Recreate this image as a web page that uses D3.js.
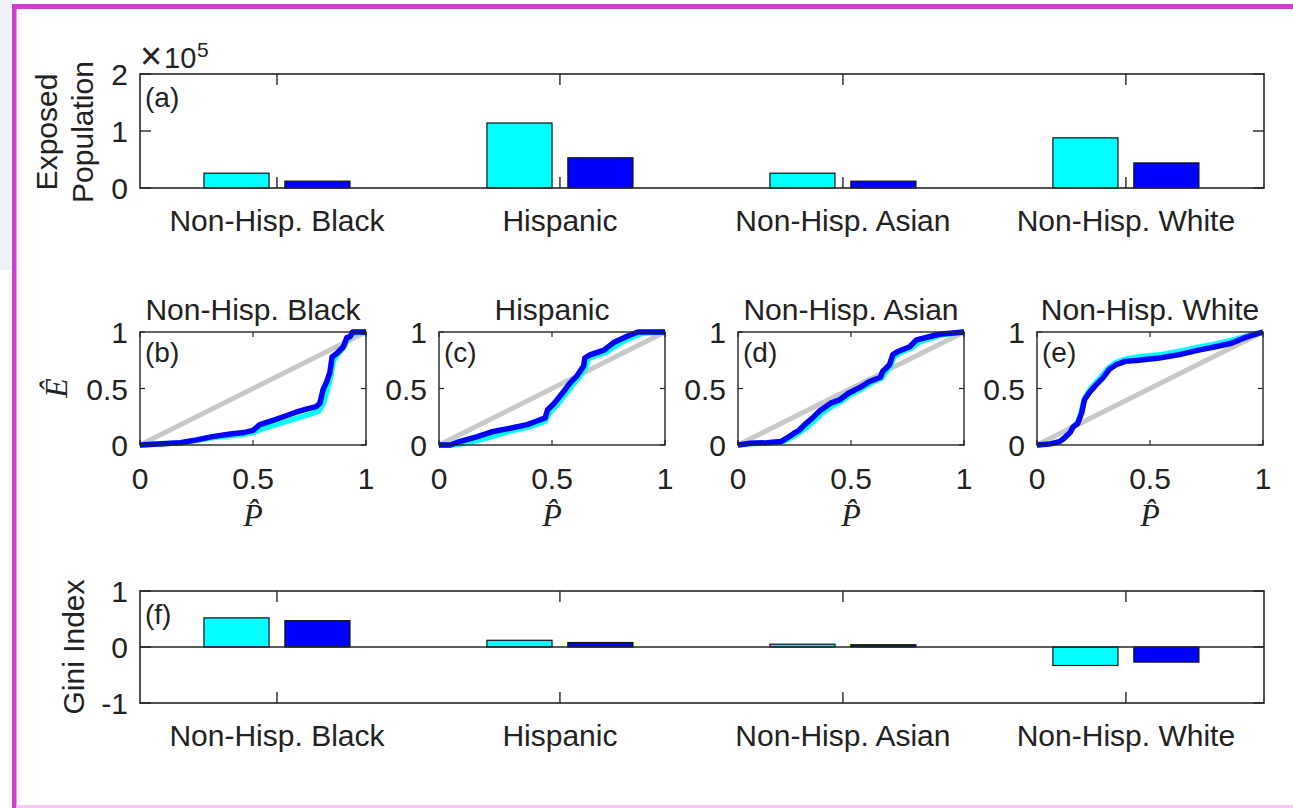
<!DOCTYPE html>
<html>
<head>
<meta charset="utf-8">
<script src="https://cdn.jsdelivr.net/npm/d3@7"></script>
<style>
  html, body { margin: 0; padding: 0; background: #fff; }
  svg { display: block; }
  text { font-family: "Liberation Sans", Arial, sans-serif; fill: #222; }
</style>
</head>
<body>
<svg id="chart" width="1293" height="808"></svg>
<script>
// ---------------- DATA ----------------
const categories = ["Non-Hisp. Black", "Hispanic", "Non-Hisp. Asian", "Non-Hisp. White"];
const panelLetters = ["(b)", "(c)", "(d)", "(e)"];
// Exposed population (x 10^5)
const exposedCyan = [0.26, 1.14, 0.26, 0.88];
const exposedBlue = [0.12, 0.53, 0.12, 0.44];
// Gini index
const giniCyan = [0.52, 0.12, 0.05, -0.33];
const giniBlue = [0.47, 0.08, 0.04, -0.27];
const exposedTicks = [0, 1, 2];
const giniTicks = [-1, 0, 1];
const lorenzTicks = [0, 0.5, 1];
const lorenzTickLabels = ["0", "0.5", "1"];
// Concentration curves (P-hat, E-hat)
const blackBlue = [[0,0],[0.10,0.01],[0.18,0.02],[0.25,0.045],[0.32,0.074],[0.40,0.098],[0.46,0.11],[0.50,0.13],[0.53,0.18],[0.575,0.21],[0.634,0.25],[0.69,0.29],[0.74,0.32],[0.78,0.34],[0.796,0.37],[0.81,0.49],[0.826,0.56],[0.84,0.64],[0.85,0.78],[0.87,0.81],[0.90,0.87],[0.915,0.95],[0.93,0.96],[0.94,1.0],[1,1]];
const blackCyan = [[0,0],[0.10,0.01],[0.18,0.02],[0.25,0.04],[0.32,0.065],[0.40,0.085],[0.46,0.095],[0.50,0.11],[0.55,0.15],[0.60,0.18],[0.65,0.21],[0.70,0.24],[0.75,0.27],[0.79,0.30],[0.81,0.36],[0.83,0.50],[0.845,0.62],[0.855,0.74],[0.87,0.79],[0.90,0.86],[0.92,0.94],[0.94,0.98],[0.96,1.0],[1,1]];
const hispBlue = [[0,0],[0.05,0],[0.09,0.03],[0.17,0.074],[0.24,0.12],[0.32,0.15],[0.39,0.18],[0.43,0.21],[0.47,0.24],[0.48,0.31],[0.51,0.37],[0.55,0.47],[0.58,0.55],[0.61,0.61],[0.64,0.70],[0.645,0.77],[0.67,0.80],[0.73,0.84],[0.775,0.91],[0.83,0.96],[0.88,1.0],[1,1]];
const hispCyan = [[0,0],[0.06,0],[0.10,0.01],[0.20,0.055],[0.30,0.115],[0.40,0.16],[0.47,0.21],[0.49,0.29],[0.52,0.35],[0.56,0.45],[0.59,0.53],[0.62,0.60],[0.65,0.69],[0.66,0.76],[0.69,0.79],[0.74,0.82],[0.79,0.89],[0.85,0.95],[0.90,0.99],[1,1]];
const asianBlue = [[0,0],[0.054,0.015],[0.13,0.02],[0.19,0.03],[0.215,0.06],[0.245,0.10],[0.27,0.13],[0.30,0.19],[0.33,0.24],[0.36,0.30],[0.41,0.37],[0.45,0.40],[0.49,0.46],[0.54,0.51],[0.58,0.56],[0.63,0.60],[0.64,0.65],[0.67,0.71],[0.685,0.80],[0.71,0.83],[0.76,0.87],[0.79,0.93],[0.85,0.96],[0.89,0.98],[1,1]];
const asianCyan = [[0,0],[0.06,0.012],[0.13,0.018],[0.20,0.03],[0.225,0.055],[0.255,0.09],[0.28,0.12],[0.31,0.17],[0.34,0.22],[0.37,0.28],[0.42,0.35],[0.46,0.39],[0.50,0.45],[0.55,0.50],[0.59,0.55],[0.635,0.59],[0.65,0.64],[0.675,0.70],[0.69,0.78],[0.72,0.82],[0.77,0.86],[0.80,0.91],[0.86,0.95],[0.90,0.975],[1,1]];
const whiteBlue = [[0,0],[0.06,0.01],[0.10,0.03],[0.12,0.06],[0.146,0.11],[0.16,0.16],[0.18,0.19],[0.197,0.28],[0.21,0.40],[0.234,0.47],[0.26,0.53],[0.29,0.59],[0.32,0.67],[0.35,0.71],[0.39,0.74],[0.45,0.75],[0.54,0.77],[0.63,0.80],[0.715,0.84],[0.79,0.87],[0.86,0.90],[0.92,0.95],[1,1]];
const whiteCyan = [[0,0],[0.06,0.01],[0.10,0.03],[0.12,0.06],[0.146,0.11],[0.16,0.16],[0.18,0.20],[0.195,0.29],[0.21,0.41],[0.234,0.49],[0.26,0.55],[0.29,0.62],[0.32,0.69],[0.35,0.73],[0.39,0.76],[0.45,0.78],[0.55,0.80],[0.63,0.83],[0.70,0.86],[0.78,0.89],[0.85,0.92],[0.92,0.96],[1,1]];
const lorenzSets = [[blackCyan, blackBlue], [hispCyan, hispBlue], [asianCyan, asianBlue], [whiteCyan, whiteBlue]];

// ---------------- STYLE ----------------
const CYAN = "#00ffff", BLUE = "#0000ff", AX = "#262626", GRAY = "#c8c8c8";
const FS = 30;
const svg = d3.select("#chart");

// screenshot frame fragments
svg.append("rect").attr("x", 0).attr("y", 0).attr("width", 12).attr("height", 270).attr("fill", "#eef2f6");
svg.append("rect").attr("x", 12).attr("y", 4).attr("width", 1281).attr("height", 5).attr("fill", "#d03ccf");
svg.append("rect").attr("x", 12).attr("y", 4).attr("width", 4.5).attr("height", 804).attr("fill", "#d03ccf");
svg.append("rect").attr("x", 16).attr("y", 805).attr("width", 1277).attr("height", 3).attr("fill", "#f3c9f2");

// ---------------- BAR PANELS ----------------
const xCat = d3.scaleLinear().domain([0.516, 4.488]).range([140, 1264]);
const off = 0.143, bw = 0.23;

function barPanel(y0, y1, domain, ticks, cyanVals, blueVals, letter, showZero) {
  const y = d3.scaleLinear().domain(domain).range([y1, y0]);
  const g = svg.append("g");
  const x0 = xCat.range()[0], x1 = xCat.range()[1];
  const base = y(Math.max(domain[0], 0));
  const bars = [];
  cyanVals.forEach((v, i) => bars.push({c: i + 1 - off, v, col: CYAN}));
  blueVals.forEach((v, i) => bars.push({c: i + 1 + off, v, col: BLUE}));
  g.selectAll("rect.bar").data(bars).join("rect")
    .attr("x", d => xCat(d.c - bw / 2))
    .attr("width", d => xCat(d.c + bw / 2) - xCat(d.c - bw / 2))
    .attr("y", d => Math.min(y(d.v), base))
    .attr("height", d => Math.abs(y(d.v) - base))
    .attr("fill", d => d.col).attr("stroke", "#111").attr("stroke-width", 1.2);
  if (showZero) {
    g.append("line").attr("x1", x0).attr("x2", x1).attr("y1", y(0)).attr("y2", y(0))
      .attr("stroke", AX).attr("stroke-width", 1.3);
  }
  g.append("rect").attr("x", x0).attr("y", y0).attr("width", x1 - x0).attr("height", y1 - y0)
    .attr("fill", "none").attr("stroke", AX).attr("stroke-width", 1.6);
  const xt = [1, 2, 3, 4];
  g.selectAll("line.xt").data(xt).join("line")
    .attr("x1", d => xCat(d)).attr("x2", d => xCat(d)).attr("y1", y1).attr("y2", y1 - 11)
    .attr("stroke", AX).attr("stroke-width", 1.4);
  g.selectAll("line.xt2").data(xt).join("line")
    .attr("x1", d => xCat(d)).attr("x2", d => xCat(d)).attr("y1", y0).attr("y2", y0 + 11)
    .attr("stroke", AX).attr("stroke-width", 1.4);
  g.selectAll("line.yt").data(ticks).join("line")
    .attr("x1", x0).attr("x2", x0 + 11).attr("y1", d => y(d)).attr("y2", d => y(d))
    .attr("stroke", AX).attr("stroke-width", 1.4);
  g.selectAll("line.yt2").data(ticks).join("line")
    .attr("x1", x1).attr("x2", x1 - 11).attr("y1", d => y(d)).attr("y2", d => y(d))
    .attr("stroke", AX).attr("stroke-width", 1.4);
  g.selectAll("text.yl").data(ticks).join("text")
    .attr("x", x0 - 12).attr("y", d => y(d) + 11).attr("text-anchor", "end")
    .attr("font-size", FS).text(d => d);
  g.selectAll("text.xl").data(categories).join("text")
    .attr("x", (d, i) => xCat(i + 1)).attr("y", y1 + 43).attr("text-anchor", "middle")
    .attr("font-size", FS).text(d => d);
  g.append("text").attr("x", x0 + 5).attr("y", y0 + 33).attr("font-size", 28).text(letter);
  return y;
}

barPanel(74, 188, [0, 2], exposedTicks, exposedCyan, exposedBlue, "(a)", false);
barPanel(591, 703, [-1, 1], giniTicks, giniCyan, giniBlue, "(f)", true);

// x10^5 exponent label
svg.append("text").attr("x", 140).attr("y", 69).attr("font-size", 38).text("\u00d7");
svg.append("text").attr("x", 164).attr("y", 68).attr("font-size", 29).text("10");
svg.append("text").attr("x", 197).attr("y", 57).attr("font-size", 21).text("5");

svg.append("text").attr("transform", "translate(57,132) rotate(-90)").attr("text-anchor", "middle")
  .attr("font-size", FS).text("Exposed");
svg.append("text").attr("transform", "translate(93,132) rotate(-90)").attr("text-anchor", "middle")
  .attr("font-size", FS).text("Population");
svg.append("text").attr("transform", "translate(84,647) rotate(-90)").attr("text-anchor", "middle")
  .attr("font-size", FS).text("Gini Index");

// ---------------- LORENZ PANELS ----------------
const lefts = [140, 439, 738, 1037];
const pw = 226, pTop = 332, pBot = 445;
lefts.forEach((L, k) => {
  const x = d3.scaleLinear().domain([0, 1]).range([L, L + pw]);
  const y = d3.scaleLinear().domain([0, 1]).range([pBot, pTop]);
  const g = svg.append("g");
  const line = d3.line().x(d => x(d[0])).y(d => y(d[1]));
  g.append("path").datum([[0, 0], [1, 1]]).attr("d", line)
    .attr("fill", "none").attr("stroke", GRAY).attr("stroke-width", 5);
  const [cy, bl] = lorenzSets[k];
  g.append("path").datum(cy).attr("d", line).attr("fill", "none")
    .attr("stroke", CYAN).attr("stroke-width", 5.5).attr("stroke-linejoin", "round");
  g.append("path").datum(bl).attr("d", line).attr("fill", "none")
    .attr("stroke", BLUE).attr("stroke-width", 5.5).attr("stroke-linejoin", "round");
  g.append("rect").attr("x", L).attr("y", pTop).attr("width", pw).attr("height", pBot - pTop)
    .attr("fill", "none").attr("stroke", AX).attr("stroke-width", 1.4);
  lorenzTicks.forEach(t => {
    g.append("line").attr("x1", x(t)).attr("x2", x(t)).attr("y1", pBot).attr("y2", pBot - 5).attr("stroke", AX).attr("stroke-width", 1.2);
    g.append("line").attr("x1", x(t)).attr("x2", x(t)).attr("y1", pTop).attr("y2", pTop + 5).attr("stroke", AX).attr("stroke-width", 1.2);
    g.append("line").attr("x1", L).attr("x2", L + 5).attr("y1", y(t)).attr("y2", y(t)).attr("stroke", AX).attr("stroke-width", 1.2);
    g.append("line").attr("x1", L + pw).attr("x2", L + pw - 5).attr("y1", y(t)).attr("y2", y(t)).attr("stroke", AX).attr("stroke-width", 1.2);
  });
  g.selectAll("text.xl").data(lorenzTicks).join("text")
    .attr("x", d => x(d)).attr("y", pBot + 44).attr("text-anchor", "middle")
    .attr("font-size", FS).text((d, i) => lorenzTickLabels[i]);
  g.selectAll("text.yl").data(lorenzTicks).join("text")
    .attr("x", L - 12).attr("y", d => y(d) + 11).attr("text-anchor", "end")
    .attr("font-size", FS).text((d, i) => lorenzTickLabels[i]);
  g.append("text").attr("x", L + pw / 2).attr("y", pTop - 12).attr("text-anchor", "middle")
    .attr("font-size", FS).text(categories[k]);
  g.append("text").attr("x", L + 5).attr("y", pTop + 30).attr("font-size", 28).text(panelLetters[k]);
  g.append("text").attr("x", L + pw / 2).attr("y", pBot + 81).attr("text-anchor", "middle")
    .attr("font-size", 32).attr("font-style", "italic")
    .style("font-family", "'Liberation Serif', 'DejaVu Serif', serif").text("P\u0302");
});
svg.append("text").attr("transform", "translate(67,388) rotate(-90)").attr("text-anchor", "middle")
  .attr("font-size", 32).attr("font-style", "italic")
  .style("font-family", "'Liberation Serif', 'DejaVu Serif', serif").text("\u00ca");
</script>
</body>
</html>
